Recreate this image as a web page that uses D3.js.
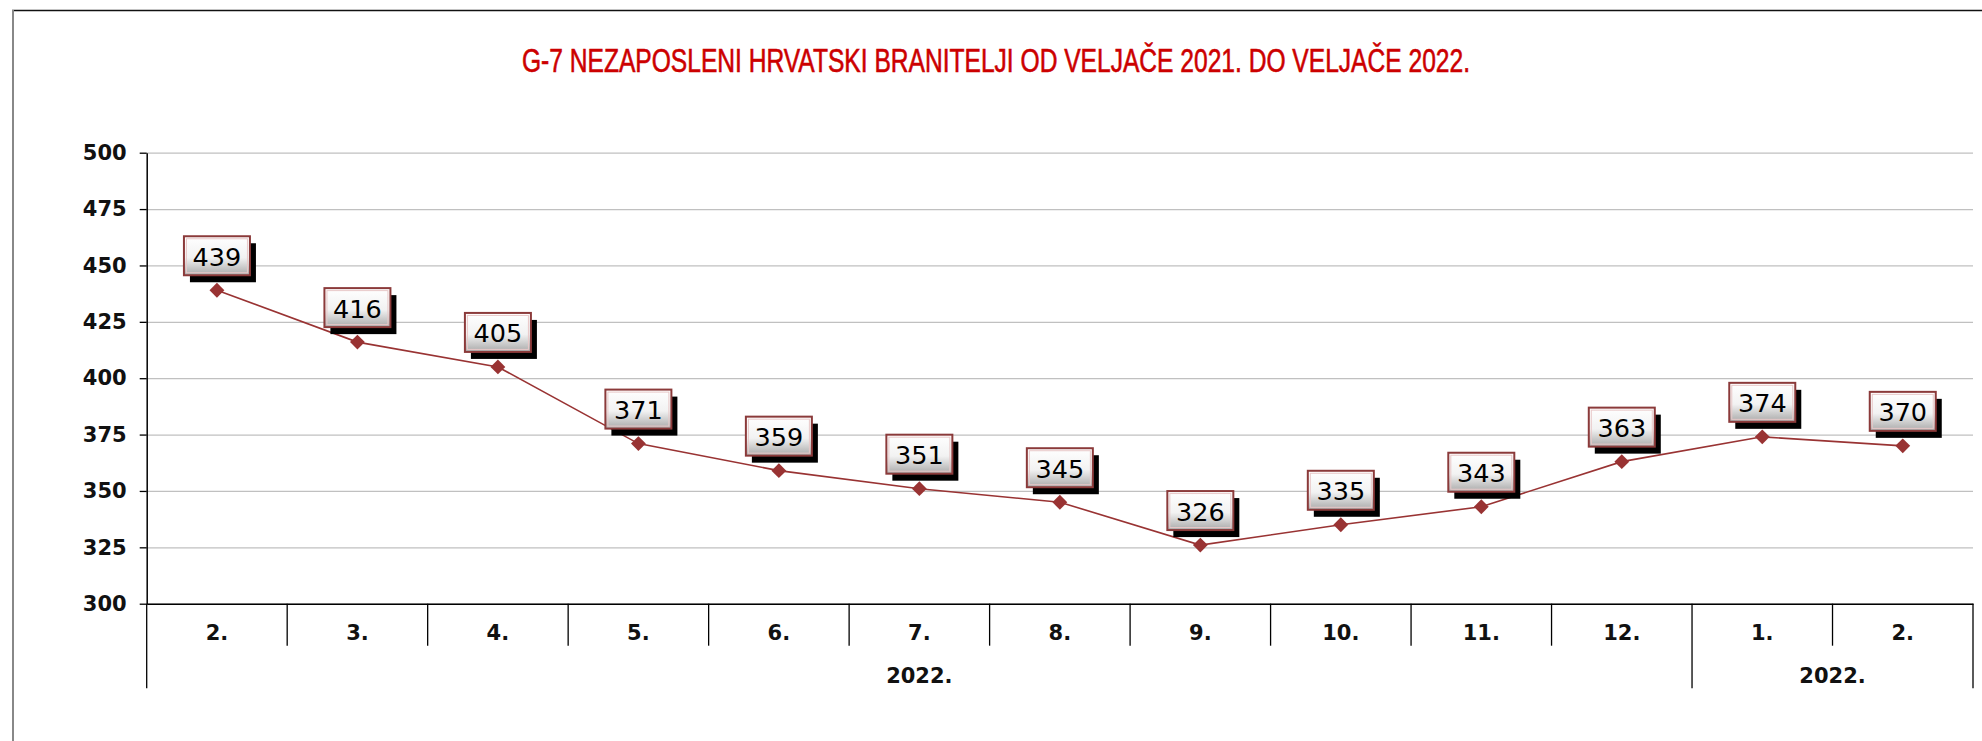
<!DOCTYPE html>
<html>
<head>
<meta charset="utf-8">
<script src="https://cdn.jsdelivr.net/npm/d3@7"></script>
<style>
  body { margin: 0; background: #fff; }
  svg { display: block; }
</style>
</head>
<body>
<div id="graf"></div>
<script>
// I. Datos
const meses = ['2.', '3.', '4.', '5.', '6.', '7.', '8.', '9.', '10.', '11.', '12.', '1.', '2.']
const valores = [439, 416, 405, 371, 359, 351, 345, 326, 335, 343, 363, 374, 370]
const anios = ['2022.', '2022.']
const aniosInicio = [0, 11]
const aniosFin = [11, 13]
const yTicks = [300, 325, 350, 375, 400, 425, 450, 475, 500]
const titulo = 'G-7 NEZAPOSLENI HRVATSKI BRANITELJI OD VELJAČE 2021. DO VELJAČE 2022.'

// II. Configuración
const ancho_total = 1982
const alto_total = 741
const margins = { top: 152.7, left: 146.7, right: 9, bottom: 137.3 }
const ancho = ancho_total - margins.left - margins.right
const alto = alto_total - margins.top - margins.bottom

const svg = d3.select('#graf').append('svg')
  .attr('width', ancho_total)
  .attr('height', alto_total)

// marco exterior
svg.append('line').attr('x1', 12).attr('x2', ancho_total).attr('y1', 10.5).attr('y2', 10.5)
  .attr('stroke', '#111').attr('stroke-width', 1.5)
svg.append('line').attr('x1', 13).attr('x2', 13).attr('y1', 10).attr('y2', alto_total)
  .attr('stroke', '#888').attr('stroke-width', 2)

// titulo comprimido al ancho del original
svg.append('text')
  .attr('x', 996)
  .attr('y', 72)
  .attr('text-anchor', 'middle')
  .attr('textLength', 948)
  .attr('lengthAdjust', 'spacingAndGlyphs')
  .style('font-family', '"Liberation Sans Narrow", "Arial Narrow", "Liberation Sans", sans-serif')
  .style('font-size', '33px')
  .style('fill', '#cc0000')
  .style('stroke', '#cc0000')
  .style('stroke-width', '0.6px')
  .text(titulo)

const defs = svg.append('defs')
const grad = defs.append('linearGradient').attr('id', 'caja').attr('x1', 0).attr('y1', 0).attr('x2', 0).attr('y2', 1)
grad.append('stop').attr('offset', '0%').attr('stop-color', '#ffffff')
grad.append('stop').attr('offset', '55%').attr('stop-color', '#f2f2f2')
grad.append('stop').attr('offset', '100%').attr('stop-color', '#a9a9a9')

const g = svg.append('g')
  .attr('transform', `translate(${ margins.left }, ${ margins.top })`)

const x = d3.scaleBand()
  .domain(d3.range(meses.length))
  .range([0, ancho])
  .padding(0)

const y = d3.scaleLinear()
  .domain([300, 500])
  .range([alto, 0])

const fuente = '"DejaVu Sans", Verdana, sans-serif'
const tam = '21px'

// III. Ejes
const grid = g.append('g')
  .call(d3.axisLeft(y).tickValues(yTicks).tickSize(-ancho).tickFormat(''))
grid.select('.domain').remove()
grid.selectAll('line').attr('stroke', '#c0c0c0').attr('stroke-width', 1.3)

const yAxisGroup = g.append('g')
  .call(d3.axisLeft(y).tickValues(yTicks).tickSize(7).tickSizeOuter(0).tickPadding(13))
yAxisGroup.select('.domain').attr('stroke', '#000').attr('stroke-width', 1.5)
yAxisGroup.selectAll('line').attr('stroke', '#000').attr('stroke-width', 1.3)
yAxisGroup.selectAll('text')
  .style('font-family', fuente)
  .style('font-weight', 'bold')
  .style('font-size', tam)
  .style('fill', '#111')

const xAxisGroup = g.append('g')
  .attr('transform', `translate(0, ${ alto })`)
  .call(d3.axisBottom(x).tickSize(0).tickPadding(21).tickFormat(i => meses[i]))
xAxisGroup.select('.domain').attr('stroke', '#000').attr('stroke-width', 1.5)
xAxisGroup.selectAll('text')
  .style('font-family', fuente)
  .style('font-weight', 'bold')
  .style('font-size', tam)
  .style('fill', '#111')

// separadores de meses y de años
const fin = i => i < meses.length ? x(i) : x(meses.length - 1) + x.bandwidth()
const esAnio = i => aniosInicio.includes(i) || aniosFin.includes(i)
g.append('g').selectAll('line')
  .data(d3.range(meses.length + 1))
  .join('line')
    .attr('x1', fin)
    .attr('x2', fin)
    .attr('y1', alto)
    .attr('y2', i => esAnio(i) ? alto + 84.5 : alto + 42)
    .attr('stroke', '#000')
    .attr('stroke-width', 1.3)

g.append('g').selectAll('text')
  .data(anios)
  .join('text')
    .attr('x', (d, i) => (fin(aniosInicio[i]) + fin(aniosFin[i])) / 2)
    .attr('y', alto + 79)
    .attr('text-anchor', 'middle')
    .style('font-family', fuente)
    .style('font-weight', 'bold')
    .style('font-size', tam)
    .style('fill', '#111')
    .text(d => d)

// IV. Serie
const cx = i => x(i) + x.bandwidth() / 2
const linea = d3.line()
  .x((d, i) => cx(i))
  .y(d => y(d))

g.append('path')
  .datum(valores)
  .attr('d', linea)
  .attr('fill', 'none')
  .attr('stroke', '#993333')
  .attr('stroke-width', 1.6)

g.append('g').selectAll('path')
  .data(valores)
  .join('path')
    .attr('d', d3.symbol().type(d3.symbolSquare).size(110))
    .attr('transform', (d, i) => `translate(${ cx(i) }, ${ y(d) }) rotate(45)`)
    .attr('fill', '#993333')

// etiquetas con caja
const cajaW = 66, cajaH = 39
const etiquetas = g.append('g').selectAll('g')
  .data(valores)
  .join('g')
    .attr('transform', (d, i) => `translate(${ cx(i) - cajaW / 2 }, ${ y(d) - 15 - cajaH })`)

etiquetas.append('rect')
  .attr('x', 6).attr('y', 7)
  .attr('width', cajaW).attr('height', cajaH)
  .attr('fill', '#000')

etiquetas.append('rect')
  .attr('width', cajaW).attr('height', cajaH)
  .attr('fill', 'url(#caja)')
  .attr('stroke', '#8b3a3a')
  .attr('stroke-width', 2)

etiquetas.append('rect')
  .attr('x', 2.5).attr('y', 2.5)
  .attr('width', cajaW - 5).attr('height', cajaH - 5)
  .attr('fill', 'none')
  .attr('stroke', '#e8c8c8')
  .attr('stroke-width', 1)

etiquetas.append('text')
  .attr('x', cajaW / 2)
  .attr('y', 29.5)
  .attr('text-anchor', 'middle')
  .style('font-family', fuente)
  .style('font-size', '25.5px')
  .style('fill', '#000')
  .text(d => d)
</script>
</body>
</html>
